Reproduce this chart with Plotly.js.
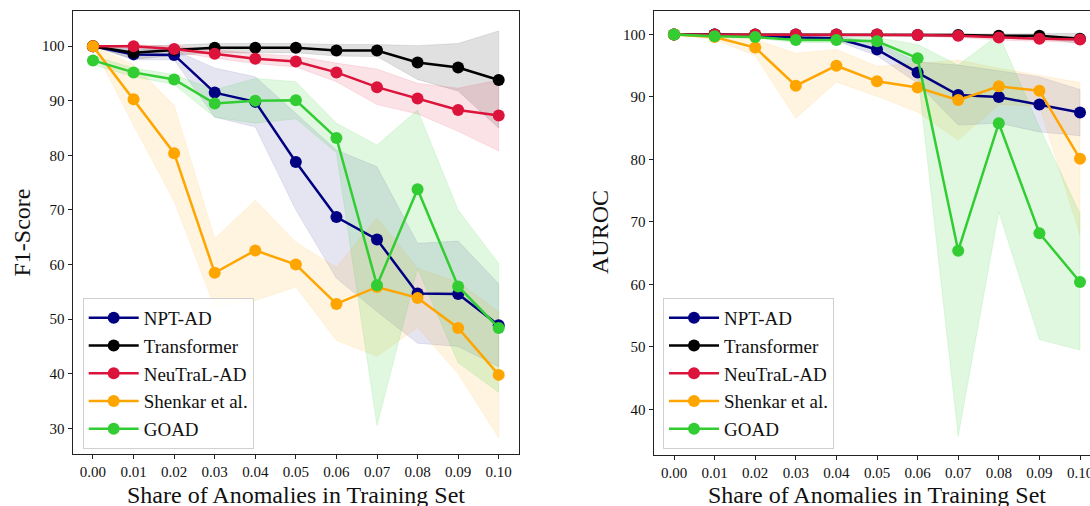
<!DOCTYPE html>
<html>
<head>
<meta charset="utf-8">
<script src="https://cdn.plot.ly/plotly-3.0.1.min.js"></script>
<style>
html,body{margin:0;padding:0;overflow:hidden;background:#fff;}
#chart{width:1110px;height:506px;}
</style>
</head>
<body>
<div id="chart"></div>
<script>
// ---- data ----
const shares = [0.00,0.01,0.02,0.03,0.04,0.05,0.06,0.07,0.08,0.09,0.10];
const tickLabels = ["0.00","0.01","0.02","0.03","0.04","0.05","0.06","0.07","0.08","0.09","0.10"];
const methods = ["NPT-AD","Transformer","NeuTraL-AD","Shenkar et al.","GOAD"];

// F1-Score (left)
const f1NPT     = [100, 98.5, 98.4, 91.5, 89.8, 78.8, 68.7, 64.6, 54.7, 54.6, 48.9];
const f1NPTHi   = [100, 99.5, 99.3, 96.0, 94.4, 87.7, 81.0, 77.9, 63.9, 64.3, 56.5];
const f1NPTLo   = [100, 97.5, 97.5, 87.0, 85.2, 70.0, 57.5, 51.4, 45.6, 45.0, 41.3];
const f1Trans   = [100, 98.8, 99.3, 99.7, 99.7, 99.7, 99.2, 99.2, 97.0, 96.1, 93.8];
const f1TransHi = [100, 100, 100.2, 100.5, 100.5, 100.5, 100.3, 100.3, 100.1, 100.5, 102.8];
const f1TransLo = [100, 97.6, 98.3, 98.8, 98.8, 98.8, 98.2, 98.1, 93.9, 91.8, 85.0];
const f1Neu     = [100, 100, 99.5, 98.6, 97.7, 97.2, 95.2, 92.5, 90.4, 88.3, 87.3];
const f1NeuHi   = [100, 100.3, 100, 99.4, 98.6, 98.2, 96.9, 95.8, 93.2, 92.3, 93.8];
const f1NeuLo   = [100, 99.7, 99.0, 97.8, 96.8, 96.2, 93.5, 89.3, 87.6, 84.4, 80.8];
const f1Shen    = [100, 90.3, 80.4, 58.5, 62.6, 60.0, 52.8, 55.9, 53.9, 48.4, 39.8];
const f1ShenHi  = [100, 96.6, 89.2, 64.8, 71.8, 64.1, 59.5, 68.6, 59.3, 56.8, 51.3];
const f1ShenLo  = [100, 85.5, 71.6, 52.2, 53.4, 55.9, 46.1, 43.2, 48.5, 40.0, 28.3];
const f1Goad    = [97.4, 95.2, 93.9, 89.5, 90.0, 90.1, 83.2, 56.2, 73.8, 56.0, 48.4];
const f1GoadHi  = [98.2, 96.0, 94.8, 92.0, 94.1, 93.5, 85.9, 81.9, 88.3, 70.0, 60.2];
const f1GoadLo  = [96.6, 94.4, 93.0, 87.0, 85.9, 86.7, 80.5, 30.5, 59.3, 42.0, 36.6];

// AUROC (right)
const auNPT     = [100, 100, 99.8, 99.5, 99.4, 97.6, 93.9, 90.3, 90.0, 88.8, 87.5];
const auNPTHi   = [100, 100.1, 100, 99.8, 99.8, 98.6, 95.6, 95.1, 94.2, 93.2, 91.2];
const auNPTLo   = [100, 99.9, 99.6, 99.2, 99.0, 96.6, 92.2, 85.5, 85.8, 84.4, 83.8];
const auTrans   = [100, 100, 100, 100, 100, 100, 99.9, 99.9, 99.8, 99.8, 99.3];
const auTransHi = [100, 100, 100, 100.1, 100.1, 100.1, 100.1, 100.1, 100.1, 100.1, 100.2];
const auTransLo = [100, 100, 99.9, 99.9, 99.9, 99.9, 99.7, 99.7, 99.5, 99.5, 98.5];
const auNeu     = [100, 100, 100, 100, 100, 100, 99.9, 99.8, 99.5, 99.3, 99.2];
const auNeuHi   = [100, 100, 100, 100.1, 100.1, 100.1, 100.1, 100.1, 99.9, 99.7, 99.7];
const auNeuLo   = [100, 100, 100, 99.9, 99.9, 99.9, 99.7, 99.5, 99.1, 98.9, 98.7];
const auShen    = [100, 99.6, 97.9, 91.8, 95.0, 92.5, 91.5, 89.5, 91.7, 91.0, 80.1];
const auShenHi  = [100, 100, 99.2, 97.0, 97.6, 94.9, 95.4, 95.9, 94.6, 93.5, 92.3];
const auShenLo  = [100, 99.2, 96.6, 86.6, 92.4, 90.1, 87.6, 83.1, 88.8, 88.5, 67.9];
const auGoad    = [100, 99.7, 99.6, 99.1, 99.1, 98.9, 96.2, 65.4, 85.8, 68.2, 60.4];
const auGoadHi  = [100, 99.9, 99.8, 99.5, 99.5, 99.5, 98.4, 95.1, 100.0, 85.2, 71.3];
const auGoadLo  = [100, 99.5, 99.4, 98.7, 98.7, 98.3, 94.0, 35.7, 71.6, 51.2, 49.5];

const colors = ["#000080", "#000000", "#DC143C", "#FFA500", "#32CD32"];
const bandAlpha = [0.10, 0.12, 0.12, 0.12, 0.15];

const leftSeries = [[f1NPT,f1NPTHi,f1NPTLo],[f1Trans,f1TransHi,f1TransLo],[f1Neu,f1NeuHi,f1NeuLo],[f1Shen,f1ShenHi,f1ShenLo],[f1Goad,f1GoadHi,f1GoadLo]];
const rightSeries = [[auNPT,auNPTHi,auNPTLo],[auTrans,auTransHi,auTransLo],[auNeu,auNeuHi,auNeuLo],[auShen,auShenHi,auShenLo],[auGoad,auGoadHi,auGoadLo]];

function rgba(hex, a){
  const r=parseInt(hex.slice(1,3),16), g=parseInt(hex.slice(3,5),16), b=parseInt(hex.slice(5,7),16);
  return `rgba(${r},${g},${b},${a})`;
}

const traces = [];
function addPanel(series, xa, ya, legendId){
  series.forEach((s,i)=>{
    traces.push({
      x: shares.concat(shares.slice().reverse()),
      y: s[1].concat(s[2].slice().reverse()),
      xaxis: xa, yaxis: ya, type:'scatter', mode:'lines',
      fill:'toself', fillcolor: rgba(colors[i], bandAlpha[i]),
      line:{width:0.6, color: rgba(colors[i], bandAlpha[i]+0.05)},
      showlegend:false, hoverinfo:'skip'
    });
  });
  series.forEach((s,i)=>{
    traces.push({
      x: shares, y: s[0], xaxis: xa, yaxis: ya, type:'scatter', mode:'lines+markers',
      name: methods[i], legend: legendId,
      line:{color: colors[i], width:2.5},
      marker:{color: colors[i], size:12}
    });
  });
}
addPanel(leftSeries, 'x', 'y', 'legend');
addPanel(rightSeries, 'x2', 'y2', 'legend2');

const W = 1110, H = 506;
const font = "Liberation Serif, Times New Roman, serif";
const axisCommon = {
  showline:true, mirror:true, linecolor:'#222', linewidth:1.2,
  ticks:'outside', ticklen:4, tickcolor:'#222', tickwidth:1,
  showgrid:false, zeroline:false,
  tickfont:{family:font, size:15, color:'#111'}
};
const legendCommon = {
  font:{family:font, size:19, color:'#111'},
  bgcolor:'rgba(255,255,255,0.85)', bordercolor:'#d0d0d0', borderwidth:1,
  xanchor:'left', yanchor:'top', tracegroupgap:0, itemwidth:50
};

const layout = {
  width:W, height:H, margin:{l:0,r:0,t:0,b:0},
  paper_bgcolor:'#fff', plot_bgcolor:'#fff',
  showlegend:true,
  xaxis: Object.assign({}, axisCommon, {domain:[72.7/W, 519/W], range:[-0.005,0.105], tickvals:shares, ticktext:tickLabels, anchor:'y'}),
  yaxis: Object.assign({}, axisCommon, {domain:[1-453.5/H, 1-10.7/H], range:[25.4,106.5], dtick:10, tick0:0, anchor:'x'}),
  xaxis2: Object.assign({}, axisCommon, {domain:[653.7/W, 1100.3/W], range:[-0.005,0.105], tickvals:shares, ticktext:tickLabels, anchor:'y2'}),
  yaxis2: Object.assign({}, axisCommon, {domain:[1-454.5/H, 1-10.7/H], range:[32.8,103.8], dtick:10, tick0:0, anchor:'x2'}),
  legend: Object.assign({}, legendCommon, {x:82.7/W, y:1-298/H}),
  legend2: Object.assign({}, legendCommon, {x:663/W, y:1-298/H}),
  annotations:[
    {text:'Share of Anomalies in Training Set', xref:'paper', yref:'paper', x:296/W, y:1-495/H, xanchor:'center', yanchor:'middle', showarrow:false, font:{family:font, size:24, color:'#111'}},
    {text:'Share of Anomalies in Training Set', xref:'paper', yref:'paper', x:877/W, y:1-495/H, xanchor:'center', yanchor:'middle', showarrow:false, font:{family:font, size:24, color:'#111'}},
    {text:'F1-Score', xref:'paper', yref:'paper', x:21.5/W, y:1-233/H, xanchor:'center', yanchor:'middle', textangle:-90, showarrow:false, font:{family:font, size:24, color:'#111'}},
    {text:'AUROC', xref:'paper', yref:'paper', x:600/W, y:1-232/H, xanchor:'center', yanchor:'middle', textangle:-90, showarrow:false, font:{family:font, size:24, color:'#111'}}
  ]
};

Plotly.newPlot('chart', traces, layout, {staticPlot:true, displayModeBar:false});
</script>
</body>
</html>
